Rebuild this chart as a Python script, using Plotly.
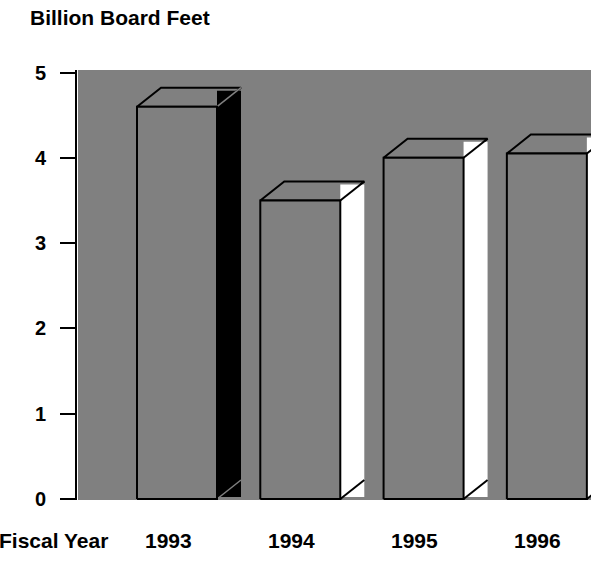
import plotly.graph_objects as go

# Timber volume by fiscal year (billion board feet)
years = ["1993", "1994", "1995", "1996"]
board_feet = [4.6, 3.5, 4.0, 4.05]
side_colors = ["#000000", "#ffffff", "#ffffff", "#ffffff"]
y_ticks = [0, 1, 2, 3, 4, 5]

# Figure / plot-area geometry (pixels)
W, H = 591, 569
PLOT_L, PLOT_R, PLOT_T, PLOT_B = 78, 591, 70, 500
AXIS_X = 76
X_RANGE = [-0.803, 3.358]
Y_RANGE = [-0.012, 5.03]

# data units per pixel, used for the pseudo-3D depth of each column
ux = (X_RANGE[1] - X_RANGE[0]) / (PLOT_R - PLOT_L)
uy = (Y_RANGE[1] - Y_RANGE[0]) / (PLOT_B - PLOT_T)
half = 40 * ux
dx = 24 * ux
dy = 19 * uy

GRAY = "#808080"
FONT = dict(family="Liberation Sans, Arial, sans-serif", size=21, color="black", weight="bold")
TICK_FONT = dict(FONT, size=20)

fig = go.Figure()

def poly(xs, ys, fill, line_color="black", line_width=2):
    fig.add_trace(go.Scatter(
        x=xs, y=ys, mode="lines", fill="toself", fillcolor=fill,
        line=dict(color=line_color, width=line_width),
        hoverinfo="skip", showlegend=False,
    ))

def seg(xs, ys, color, width=2):
    fig.add_trace(go.Scatter(
        x=xs, y=ys, mode="lines", line=dict(color=color, width=width),
        hoverinfo="skip", showlegend=False,
    ))

for i, (v, side) in enumerate(zip(board_feet, side_colors)):
    c = i
    xl, xr = c - half, c + half
    # top face
    poly([xl, xr, xr + dx, xl + dx, xl], [v, v, v + dy, v + dy, v], GRAY)
    # side face
    top = v + dy - 3 * uy
    bot = 2 * uy
    fig.add_trace(go.Scatter(
        x=[xr, xr + dx, xr + dx, xr, xr], y=[top, top, bot, bot, top],
        mode="lines", fill="toself", fillcolor=side, line=dict(width=0),
        hoverinfo="skip", showlegend=False,
    ))
    edge = GRAY if side == "#000000" else "black"
    ew = 1.5 if side == "#000000" else 2
    seg([xr, xr + dx], [v, v + dy], edge, ew)
    seg([xr, xr + dx], [0, dy], edge, ew)
    # front face
    poly([xl, xr, xr, xl, xl], [0, 0, v, v, 0], GRAY)

def py(pixel_y):
    return (PLOT_B - pixel_y) / (PLOT_B - PLOT_T)

annotations = [
    dict(text="Billion Board Feet", xref="paper", yref="paper", x=28 / W, y=py(18),
         xanchor="left", yanchor="middle", showarrow=False, font=FONT),
    dict(text="Fiscal Year", xref="paper", yref="paper", x=0, xshift=-3, y=py(540),
         xanchor="left", yanchor="middle", showarrow=False, font=FONT),
]
for i, yr in enumerate(years):
    annotations.append(dict(text=yr, xref="x", yref="paper", x=i, xshift=-9, y=py(540),
                            xanchor="center", yanchor="middle", showarrow=False, font=FONT))

fig.update_layout(
    width=W, height=H,
    margin=dict(l=0, r=0, t=PLOT_T, b=H - PLOT_B, pad=0),
    paper_bgcolor="white", plot_bgcolor=GRAY,
    xaxis=dict(domain=[PLOT_L / W, 1], range=X_RANGE, showgrid=False, zeroline=False,
               showticklabels=False, ticks="", fixedrange=True),
    yaxis=dict(domain=[0, 1], range=Y_RANGE, anchor="free", position=AXIS_X / W,
               showgrid=False, zeroline=False, showline=True, linecolor="black", linewidth=2,
               ticks="outside", ticklen=15, tickwidth=2, tickcolor="black",
               tickvals=y_ticks, tickfont=TICK_FONT, ticklabelstandoff=10, fixedrange=True),
    annotations=annotations,
)

fig.write_html("out.html")
